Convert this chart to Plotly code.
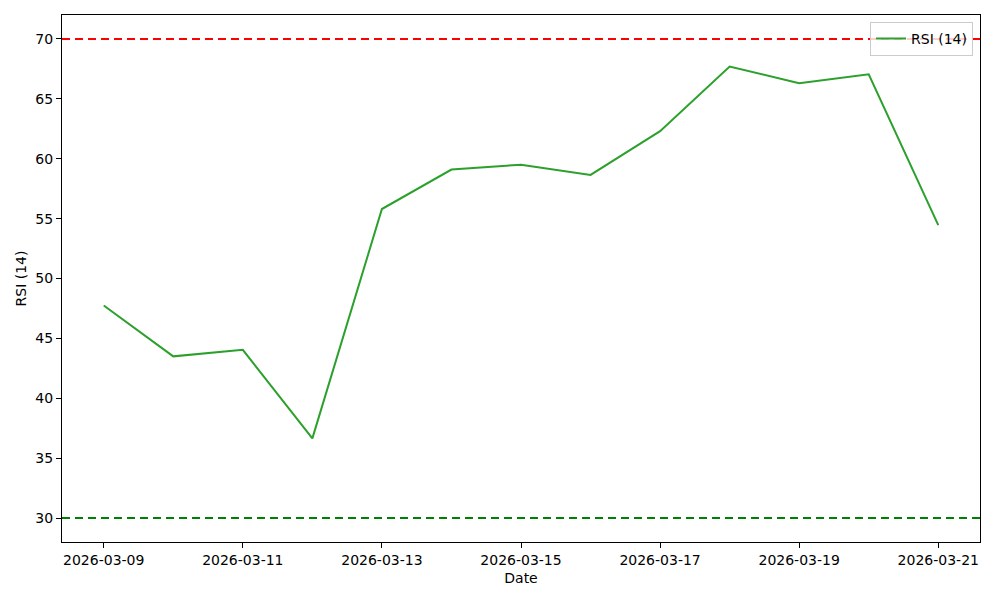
import plotly.graph_objects as go

# --- data ---
dates = [
    "2026-03-09", "2026-03-10", "2026-03-11", "2026-03-12", "2026-03-13",
    "2026-03-14", "2026-03-15", "2026-03-16", "2026-03-17", "2026-03-18",
    "2026-03-19", "2026-03-20", "2026-03-21",
]
rsi_values = [47.75, 43.5, 44.05, 36.65, 55.8, 59.1, 59.5, 58.65, 62.3, 67.7, 66.3, 67.05, 54.45]
overbought = 70
oversold = 30
x_ticks = ["2026-03-09", "2026-03-11", "2026-03-13", "2026-03-15",
           "2026-03-17", "2026-03-19", "2026-03-21"]
y_ticks = [30, 35, 40, 45, 50, 55, 60, 65, 70]

FONT = "DejaVu Sans, sans-serif"

fig = go.Figure()
fig.add_trace(go.Scatter(
    x=dates, y=rsi_values, mode="lines", name="RSI (14)",
    line=dict(color="#2ca02c", width=2),
))

fig.add_hline(y=overbought, line=dict(color="#ff0000", width=2, dash="8px,5px"))
fig.add_hline(y=oversold, line=dict(color="#008000", width=2, dash="8px,5px"))

axis_common = dict(
    showline=True, linecolor="black", linewidth=1, mirror=True,
    showgrid=False, zeroline=False,
    ticks="outside", ticklen=5, tickwidth=1, tickcolor="black",
    tickfont=dict(family=FONT, size=14, color="black"),
)

fig.update_layout(
    width=1000, height=600,
    margin=dict(l=62, r=20, t=15, b=58),
    paper_bgcolor="white", plot_bgcolor="white",
    font=dict(family=FONT, size=14, color="black"),
    showlegend=True,
    legend=dict(
        x=0.9924, y=0.987, xanchor="right", yanchor="top",
        bgcolor="rgba(255,255,255,0.8)", bordercolor="#cccccc", borderwidth=1,
        font=dict(family=FONT, size=14, color="black"),
        itemwidth=30,
    ),
    xaxis=dict(
        axis_common,
        range=["2026-03-08 09:36", "2026-03-21 14:24"],
        tickvals=x_ticks, ticktext=x_ticks,
        title=dict(text="Date", font=dict(family=FONT, size=14), standoff=6),
    ),
    yaxis=dict(
        axis_common,
        range=[28, 72],
        tickvals=y_ticks,
        title=dict(text="RSI (14)", font=dict(family=FONT, size=14), standoff=5),
    ),
)

# drop the default page margin so the chart sits at the window origin
fig.write_html(
    "out.html",
    config={"displayModeBar": False},
    post_script="document.body.style.margin='0';",
)
